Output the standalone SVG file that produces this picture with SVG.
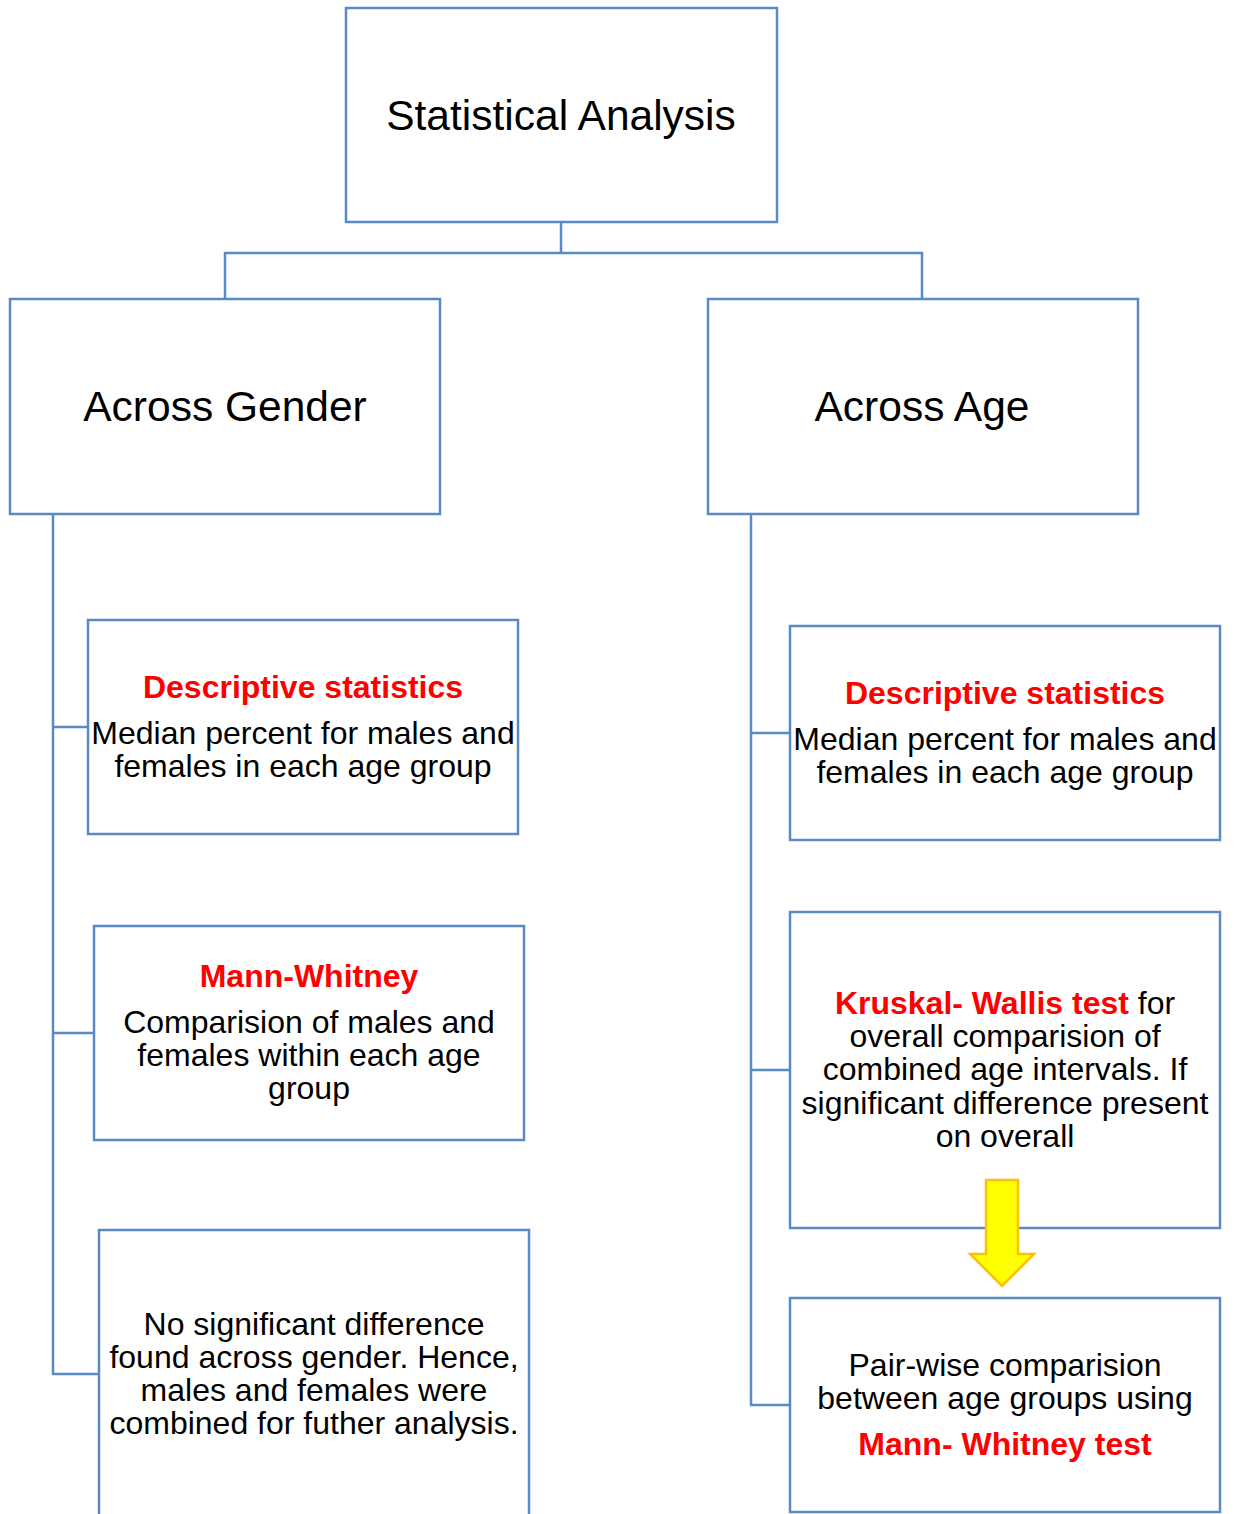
<svg xmlns="http://www.w3.org/2000/svg" width="1234" height="1514" viewBox="0 0 1234 1514">
<style>
.box{fill:#fff;stroke:#5a8ac6;stroke-width:2.5}
.conn{fill:none;stroke:#5a8ac6;stroke-width:2.5}
text{font-family:"Liberation Sans",Arial,sans-serif;text-anchor:middle;fill:#000}
.big{font-size:42.5px}
.t{font-size:32px}
.red{fill:#ff0000;font-weight:bold}
</style>
<rect width="1234" height="1514" fill="#fff"/>
<g id="connectors">
<path class="conn" d="M561,222 V253 M225,299 V253 H922 V299"/>
<path class="conn" d="M53,514 V1374 H99 M53,727 H88 M53,1033 H94"/>
<path class="conn" d="M751,514 V1405 H790 M751,733 H790 M751,1070 H790"/>
</g>
<g id="root"><rect class="box" x="346" y="8" width="431" height="214"/><text class="big" x="561" y="130">Statistical Analysis</text></g>
<g id="gender"><rect class="box" x="10" y="299" width="430" height="215"/><text class="big" x="225" y="421">Across Gender</text></g>
<g id="age"><rect class="box" x="708" y="299" width="430" height="215"/><text class="big" x="922" y="421">Across Age</text></g>
<g id="g-desc"><rect class="box" x="88" y="620" width="430" height="214"/>
<text class="t red" x="303" y="698">Descriptive statistics</text>
<text class="t" x="303" y="744">Median percent for males and</text>
<text class="t" x="303" y="777">females in each age group</text></g>
<g id="g-mw"><rect class="box" x="94" y="926" width="430" height="214"/>
<text class="t red" x="309" y="987">Mann-Whitney</text>
<text class="t" x="309" y="1033">Comparision of males and</text>
<text class="t" x="309" y="1066">females within each age</text>
<text class="t" x="309" y="1099">group</text></g>
<g id="g-none"><rect class="box" x="99" y="1230" width="430" height="300"/>
<text class="t" x="314" y="1335">No significant difference</text>
<text class="t" x="314" y="1368">found across gender. Hence,</text>
<text class="t" x="314" y="1401">males and females were</text>
<text class="t" x="314" y="1434">combined for futher analysis.</text></g>
<g id="a-desc"><rect class="box" x="790" y="626" width="430" height="214"/>
<text class="t red" x="1005" y="704">Descriptive statistics</text>
<text class="t" x="1005" y="750">Median percent for males and</text>
<text class="t" x="1005" y="783">females in each age group</text></g>
<g id="a-kw"><rect class="box" x="790" y="912" width="430" height="316"/>
<text class="t" x="1005" y="1014"><tspan class="red">Kruskal- Wallis test</tspan> for</text>
<text class="t" x="1005" y="1047">overall comparision of</text>
<text class="t" x="1005" y="1080">combined age intervals. If</text>
<text class="t" x="1005" y="1114">significant difference present</text>
<text class="t" x="1005" y="1147">on overall</text></g>
<g id="a-pw"><rect class="box" x="790" y="1298" width="430" height="214"/>
<text class="t" x="1005" y="1376">Pair-wise comparision</text>
<text class="t" x="1005" y="1409">between age groups using</text>
<text class="t red" x="1005" y="1455">Mann- Whitney test</text></g>
<g id="arrow"><path d="M986,1180 H1018 V1254 H1034 L1002,1286 L970,1254 H986 Z" fill="#ffff00" stroke="#ffc000" stroke-width="2.5" stroke-linejoin="miter"/></g>
</svg>
